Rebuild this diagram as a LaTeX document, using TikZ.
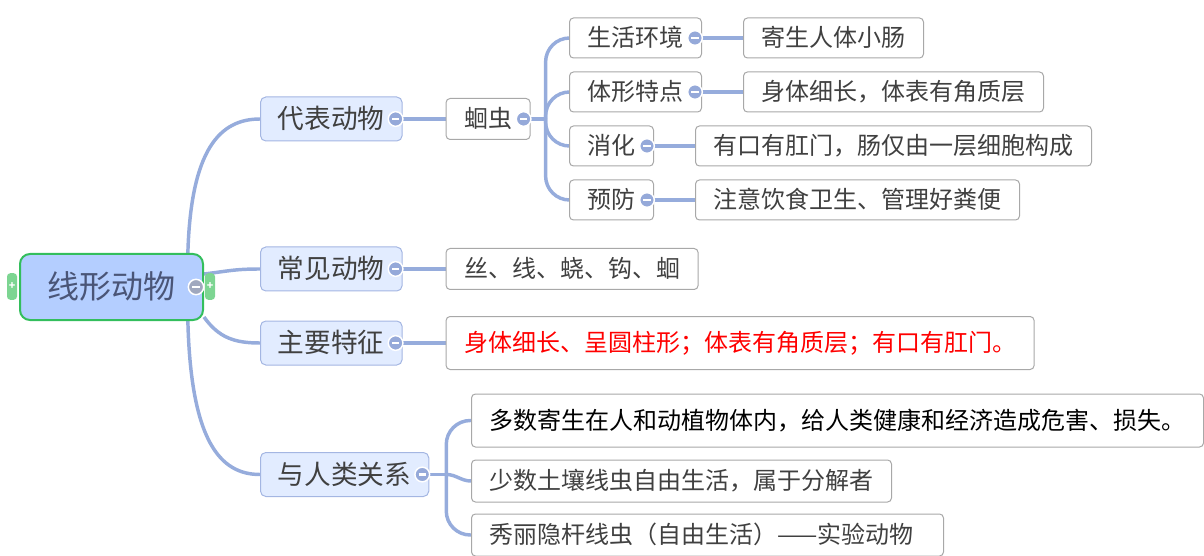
\documentclass[tikz,border=0pt]{standalone}
\usepackage{fontspec}
\setmainfont{Noto Sans CJK SC}
\usepackage{xcolor}
\usepackage{tikz}
\usetikzlibrary{positioning, backgrounds}
\definecolor{linkblue}{HTML}{96ACDC}
\definecolor{topicfill}{HTML}{E2ECFF}
\definecolor{topicedge}{HTML}{A4B6E2}
\definecolor{rootfill}{HTML}{B4CEFF}
\definecolor{rootedge}{HTML}{33BE5C}
\definecolor{rootfold}{HTML}{A0A8BE}
\definecolor{tabgreen}{HTML}{7DD592}
\definecolor{boxedge}{HTML}{A8A8A8}
\definecolor{textgray}{HTML}{404040}
\definecolor{roottext}{HTML}{4A5577}
\definecolor{foldblue}{HTML}{95A9D9}

\begin{document}
\begin{tikzpicture}[x=0.75pt, y=-0.75pt,
  root/.style={fill=rootfill, draw=rootedge, line width=1.5pt, rounded corners=7.5pt,
    minimum width=137.25pt, minimum height=49.5pt, text height=20.6pt, text depth=3.4pt,
    font=\fontsize{24}{28}\selectfont, text=roottext},
  topic/.style={fill=topicfill, draw=topicedge, line width=0.75pt, rounded corners=4pt,
    inner xsep=13.1pt, inner ysep=0pt, minimum height=33pt, text height=17.2pt, text depth=2.8pt,
    font=\fontsize{20}{24}\selectfont, text=textgray},
  leaf/.style={fill=white, draw=boxedge, line width=0.75pt, rounded corners=3pt,
    inner xsep=13.5pt, inner ysep=0pt, minimum height=30pt, text height=15.5pt, text depth=2.5pt,
    font=\fontsize{18}{22}\selectfont, text=textgray},
  link/.style={draw=linkblue, line width=2.6pt},
  fold/.style={circle, fill=foldblue, draw=white, line width=1.1pt, minimum size=11pt, inner sep=0pt,
    path picture={\draw[white, line width=1.6pt]
      ([xshift=-2.8pt]path picture bounding box.center) -- ([xshift=2.8pt]path picture bounding box.center);}},
  foldtab/.style={fill=tabgreen, rounded corners=2.5pt, minimum width=7.5pt, minimum height=20pt,
    inner sep=0pt, text=white, font=\fontsize{8}{8}\selectfont\bfseries}
]
\useasboundingbox (0,0) rectangle (1204,556);

% centre topic
\node[foldtab] (tabL) at (12,286.5) {+};
\node[foldtab] (tabR) at (210,286.5) {+};
\node[root] (animal) at (111.5,287) {线形动物};

% main branches
\node[topic, anchor=west] (rep) at (260,119) {代表动物};
\node[topic, anchor=west] (common) at (260,269) {常见动物};
\node[topic, anchor=west] (feature) at (260,343) {主要特征};
\node[topic, anchor=west] (relation) at (260,474.5) {与人类关系};

\node[leaf, right=32.25pt of rep, minimum height=30.75pt] (worm) {蛔虫};
\node[leaf, right=32.25pt of common, minimum height=30.75pt] (kinds) {丝、线、蛲、钩、蛔};
\node[leaf, right=32.25pt of feature, minimum height=39.75pt, text=red] (traits)
  {身体细长、呈圆柱形；体表有角质层；有口有肛门。};

% roundworm details
\node[leaf, anchor=west] (habitat) at (569,38) {生活环境};
\node[leaf, anchor=west] (shape) at (569,92) {体形特点};
\node[leaf, anchor=west] (digest) at (569,146) {消化};
\node[leaf, anchor=west] (prevent) at (569,200) {预防};
\node[leaf, right=30.75pt of habitat] (host) {寄生人体小肠};
\node[leaf, right=30.75pt of shape] (body) {身体细长，体表有角质层};
\node[leaf, right=30.75pt of digest] (gut) {有口有肛门，肠仅由一层细胞构成};
\node[leaf, right=30.75pt of prevent] (hygiene) {注意饮食卫生、管理好粪便};

% relation to people
\node[leaf, anchor=west, minimum height=39.75pt, text=black] (harm) at (471,420.5)
  {多数寄生在人和动植物体内，给人类健康和经济造成危害、损失。};
\node[leaf, anchor=west, minimum height=31.5pt] (soil) at (471,481) {少数土壤线虫自由生活，属于分解者};
\node[leaf, anchor=west, minimum height=31.5pt, text width=327pt, align=left] (model) at (471,535)
  {秀丽隐杆线虫（自由生活）——实验动物};

\foreach \n in {rep, common, feature, relation, worm, habitat, shape, digest, prevent}
  \node[fold] (\n-fold) at ([xshift=-5.25pt]\n.east) {};
\node[fold, fill=rootfold, minimum size=11.5pt] (animal-fold) at ([xshift=-6pt]animal.east) {};

\begin{scope}[on background layer]
  \draw[link] (animal.24) .. controls +(3,-104) and +(-40,0) .. (rep.west);
  \draw[link] (animal.8) .. controls +(25,-3) and +(-25,0) .. (common.west);
  \draw[link] (animal.-18) .. controls +(15,21) and +(-25,0) .. (feature.west);
  \draw[link] (animal.-24) .. controls +(3,120) and +(-40,0) .. (relation.west);
  \draw[link] (rep) -- (worm);
  \draw[link] (common) -- (kinds);
  \draw[link] (feature) -- (traits);
  \draw[link] (habitat) -- (host);
  \draw[link] (shape) -- (body);
  \draw[link] (digest) -- (gut);
  \draw[link] (prevent) -- (hygiene);
  % forks
  \draw[link] (worm.east) -- ++(15,0) coordinate (wormfork);
  \draw[link, rounded corners=18pt] (wormfork) |- (habitat.west);
  \draw[link, rounded corners=18pt] (wormfork) |- (shape.west);
  \draw[link, rounded corners=18pt] (wormfork) |- (digest.west);
  \draw[link, rounded corners=18pt] (wormfork) |- (prevent.west);
  \draw[link] (relation.east) -- ++(17,0) coordinate (relfork);
  \draw[link, rounded corners=18pt] (relfork) |- (harm.west);
  \draw[link] (relfork) to[out=0, in=180] (soil.west);
  \draw[link, rounded corners=18pt] (relfork) |- (model.west);
\end{scope}
\end{tikzpicture}
\end{document}
